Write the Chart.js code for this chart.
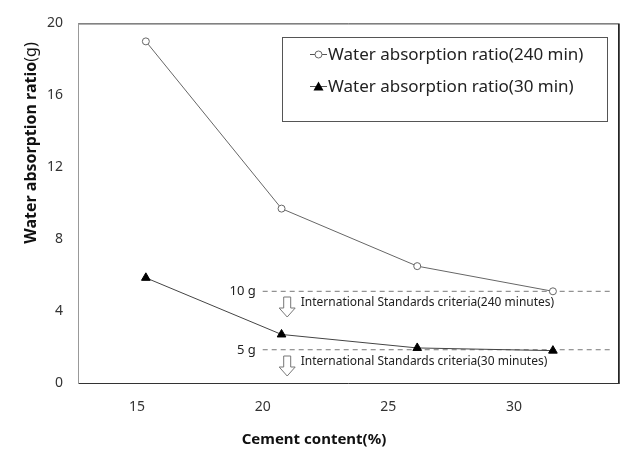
<!DOCTYPE html>
<html>
<head>
<meta charset="utf-8">
<script src="https://cdn.jsdelivr.net/npm/chart.js@4"></script>
<style>
  html, body { margin: 0; padding: 0; background: #fff; }
</style>
</head>
<body>
<canvas id="chart" width="624" height="449"></canvas>
<script>
// values
const xTicks = [15, 20, 25, 30];
const xPos = [15.35, 20.75, 26.15, 31.55];   // where the points sit on the x axis
const ratio240 = [19.0, 9.7, 6.5, 5.1];
const ratio30 = [5.85, 2.7, 1.95, 1.8];
const seriesNames = ['Water absorption ratio(240 min)', 'Water absorption ratio(30 min)'];
const criteriaY = [5.1, 1.85];
const criteriaTags = ['10 g', '5 g'];
const criteriaText = ['International Standards criteria(240 minutes)', 'International Standards criteria(30 minutes)'];
const criteriaFrom = 20;
const criteriaTo = 33.9;

const FONT = '"Noto Sans", sans-serif';

const pts = ys => ys.map((y, i) => ({ x: xPos[i], y }));
const hline = y => [{ x: criteriaFrom, y }, { x: criteriaTo, y }];

function drawMarker(ctx, style, x, y) {
  ctx.save();
  ctx.lineWidth = 1;
  if (style === 'circle') {
    ctx.beginPath();
    ctx.arc(x, y, 3.5, 0, Math.PI * 2);
    ctx.fillStyle = '#fff';
    ctx.fill();
    ctx.strokeStyle = '#666';
    ctx.stroke();
  } else {
    ctx.beginPath();
    ctx.moveTo(x, y - 5);
    ctx.lineTo(x + 5, y + 4);
    ctx.lineTo(x - 5, y + 4);
    ctx.closePath();
    ctx.fillStyle = '#000';
    ctx.fill();
  }
  ctx.restore();
}

function drawArrow(ctx, cx, top, bottom) {
  const sw = 3.5, hw = 8, hh = 9;
  ctx.save();
  ctx.beginPath();
  ctx.moveTo(cx - sw, top);
  ctx.lineTo(cx + sw, top);
  ctx.lineTo(cx + sw, bottom - hh);
  ctx.lineTo(cx + hw, bottom - hh);
  ctx.lineTo(cx, bottom);
  ctx.lineTo(cx - hw, bottom - hh);
  ctx.lineTo(cx - sw, bottom - hh);
  ctx.closePath();
  ctx.fillStyle = '#fff';
  ctx.fill();
  ctx.strokeStyle = '#777';
  ctx.lineWidth = 1;
  ctx.stroke();
  ctx.restore();
}

const extras = {
  id: 'extras',
  beforeDatasetsDraw(chart) {
    const { ctx, scales: { x, y } } = chart;
    // criteria labels, arrows and notes
    ctx.save();
    criteriaY.forEach((v, i) => {
      const py = Math.round(y.getPixelForValue(v));
      const px = x.getPixelForValue(criteriaFrom);
      drawArrow(ctx, px + 24.5, py + 6, py + 26);
      ctx.fillStyle = '#222';
      ctx.textBaseline = 'middle';
      ctx.font = '13px ' + FONT;
      ctx.textAlign = 'right';
      ctx.fillText(criteriaTags[i], px - 7, py);
      ctx.font = '12px ' + FONT;
      ctx.textAlign = 'left';
      ctx.fillText(criteriaText[i], px + 38, py + 12);
    });
    ctx.restore();
  },
  afterDraw(chart) {
    const { ctx, chartArea: a } = chart;
    ctx.save();
    // plot frame
    ctx.lineWidth = 1;
    ctx.strokeStyle = '#333';
    ctx.beginPath();
    ctx.moveTo(a.left, a.top + 0.5);
    ctx.lineTo(a.right + 0.5, a.top + 0.5);
    ctx.lineTo(a.right + 0.5, a.bottom + 0.5);
    ctx.lineTo(a.left, a.bottom + 0.5);
    ctx.stroke();
    ctx.lineWidth = 1.5;
    ctx.strokeStyle = '#222';
    ctx.beginPath();
    ctx.moveTo(a.right + 1, a.top);
    ctx.lineTo(a.right + 1, a.bottom + 1);
    ctx.stroke();
    ctx.lineWidth = 1;
    ctx.strokeStyle = '#999';
    ctx.beginPath();
    ctx.moveTo(a.left + 0.5, a.top);
    ctx.lineTo(a.left + 0.5, a.bottom + 1);
    ctx.stroke();

    // legend box
    ctx.fillStyle = '#fff';
    ctx.fillRect(282, 37, 325, 84);
    ctx.strokeStyle = '#555';
    ctx.strokeRect(282.5, 37.5, 325, 84);
    const styles = ['circle', 'triangle'];
    [54, 86].forEach((ly, i) => {
      ctx.strokeStyle = '#555';
      ctx.lineWidth = 1;
      ctx.beginPath();
      ctx.moveTo(310, ly + 0.5);
      ctx.lineTo(327, ly + 0.5);
      ctx.stroke();
      drawMarker(ctx, styles[i], 318.5, ly + 0.5);
      ctx.fillStyle = '#222';
      ctx.font = '17px ' + FONT;
      ctx.textAlign = 'left';
      ctx.textBaseline = 'middle';
      ctx.fillText(chart.data.datasets[i].label, 328, ly + 1);
    });

    // axis titles
    ctx.fillStyle = '#111';
    ctx.textBaseline = 'middle';
    ctx.font = 'bold 15px ' + FONT;
    ctx.textAlign = 'center';
    ctx.fillText('Cement content(%)', 314, 440);

    ctx.translate(31, 143);
    ctx.rotate(-Math.PI / 2);
    const boldPart = 'Water absorption ratio';
    const regPart = '(g)';
    ctx.font = 'bold 16px ' + FONT;
    const wb = ctx.measureText(boldPart).width;
    ctx.font = '16px ' + FONT;
    const wr = ctx.measureText(regPart).width;
    ctx.textAlign = 'left';
    ctx.font = 'bold 16px ' + FONT;
    ctx.fillText(boldPart, -(wb + wr) / 2, 0);
    ctx.font = '16px ' + FONT;
    ctx.fillText(regPart, -(wb + wr) / 2 + wb, 0);
    ctx.restore();
  }
};

new Chart(document.getElementById('chart'), {
  type: 'line',
  data: {
    datasets: [
      {
        label: seriesNames[0],
        data: pts(ratio240),
        borderColor: '#666',
        borderWidth: 1,
        pointStyle: 'circle',
        pointRadius: 3.5,
        pointBackgroundColor: '#fff',
        pointBorderColor: '#666',
        pointBorderWidth: 1,
        order: 2
      },
      {
        label: seriesNames[1],
        data: pts(ratio30),
        borderColor: '#444',
        borderWidth: 1,
        pointStyle: 'triangle',
        pointRadius: 5,
        pointBackgroundColor: '#000',
        pointBorderColor: '#000',
        pointBorderWidth: 1,
        order: 1
      },
      {
        label: 'crit240',
        data: hline(criteriaY[0]),
        borderColor: '#777',
        borderWidth: 1,
        borderDash: [5, 4],
        pointRadius: 0,
        order: 3
      },
      {
        label: 'crit30',
        data: hline(criteriaY[1]),
        borderColor: '#777',
        borderWidth: 1,
        borderDash: [5, 4],
        pointRadius: 0,
        order: 3
      }
    ]
  },
  options: {
    responsive: false,
    animation: false,
    devicePixelRatio: 1,
    layout: { padding: { left: 0, top: 13, right: 6, bottom: 0 } },
    plugins: { legend: { display: false }, tooltip: { enabled: false } },
    scales: {
      x: {
        type: 'linear',
        min: 12.65,
        max: 34.14,
        afterFit: s => { s.height = 66; },
        afterBuildTicks: s => { s.ticks = xTicks.map(v => ({ value: v })); },
        grid: { display: false, drawTicks: false },
        border: { display: false },
        ticks: { color: '#333', font: { family: FONT, size: 14 }, padding: 16, maxRotation: 0, autoSkip: false }
      },
      y: {
        min: 0,
        max: 20,
        afterFit: s => { s.width = 78; },
        grid: { display: false, drawTicks: false },
        border: { display: false },
        ticks: { stepSize: 4, color: '#333', font: { family: FONT, size: 14 }, padding: 15 }
      }
    }
  },
  plugins: [extras]
});
</script>
</body>
</html>
